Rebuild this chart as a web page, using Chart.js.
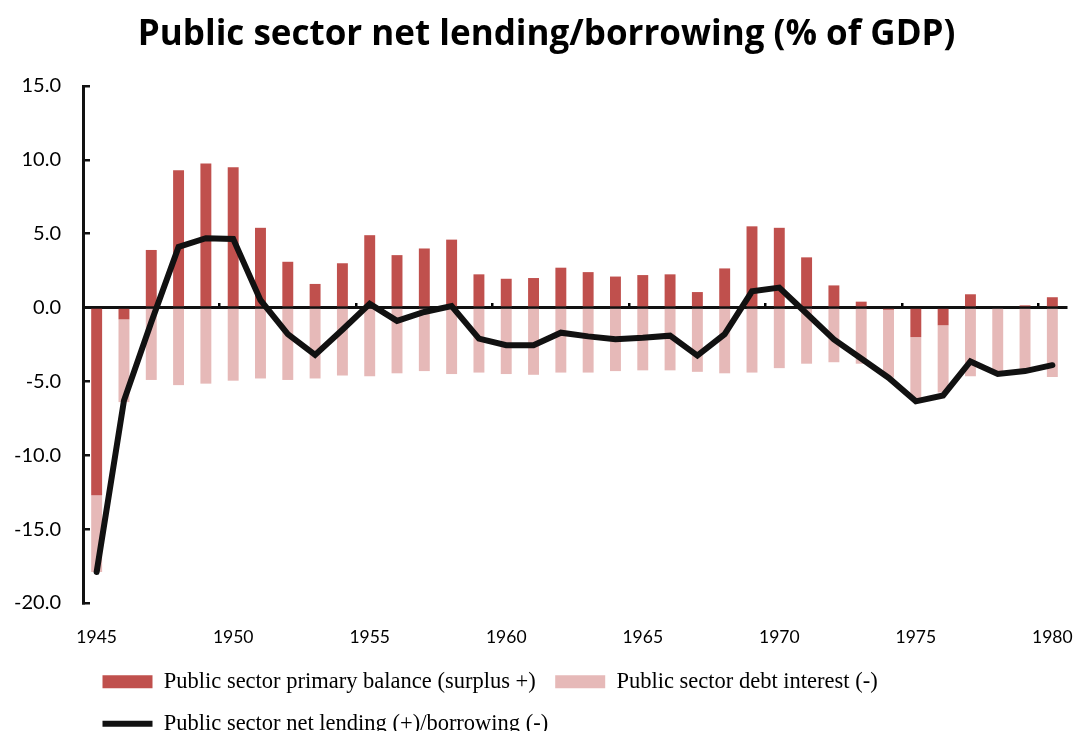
<!DOCTYPE html>
<html>
<head>
<meta charset="utf-8">
<script src="https://cdn.jsdelivr.net/npm/chart.js@4.4.1/dist/chart.umd.min.js"></script>
<style>
  html, body { margin: 0; padding: 0; background: #fff; overflow: hidden; }
  #wrap { width: 1077px; height: 731px; overflow: hidden; }
</style>
</head>
<body>
<div id="wrap"><canvas id="chart" width="1077" height="745"></canvas></div>
<script>
const years = [
  "1945", "1946", "1947", "1948", "1949", "1950", "1951", "1952", "1953", "1954",
  "1955", "1956", "1957", "1958", "1959", "1960", "1961", "1962", "1963", "1964",
  "1965", "1966", "1967", "1968", "1969", "1970", "1971", "1972", "1973", "1974",
  "1975", "1976", "1977", "1978", "1979", "1980"
];

// primary balance (surplus +), % of GDP
const primaryBalance = [
  -12.7, -0.8, 3.9, 9.3, 9.75, 9.5, 5.4, 3.1, 1.6, 3.0,
  4.9, 3.55, 4.0, 4.6, 2.25, 1.95, 2.0, 2.7, 2.4, 2.1,
  2.2, 2.25, 1.05, 2.65, 5.5, 5.4, 3.4, 1.5, 0.4, -0.15,
  -2.0, -1.2, 0.9, 0.0, 0.15, 0.7
];

// debt interest (-), % of GDP
const debtInterest = [
  -5.2, -5.6, -4.9, -5.25, -5.15, -4.95, -4.8, -4.9, -4.8, -4.6,
  -4.65, -4.45, -4.3, -4.5, -4.4, -4.5, -4.55, -4.4, -4.4, -4.3,
  -4.25, -4.25, -4.35, -4.45, -4.4, -4.1, -3.8, -3.7, -3.8, -4.6,
  -4.15, -4.55, -4.65, -4.45, -4.4, -4.7
];

// net lending (+) / borrowing (-), % of GDP
const netLending = [
  -17.9, -6.3, -1.0, 4.1, 4.7, 4.65, 0.5, -1.8, -3.2, -1.5,
  0.25, -0.9, -0.3, 0.1, -2.1, -2.55, -2.55, -1.7, -1.95, -2.15,
  -2.05, -1.9, -3.25, -1.8, 1.1, 1.35, -0.4, -2.15, -3.45, -4.75,
  -6.35, -5.95, -3.65, -4.5, -4.3, -3.9
];

const yTicks = [-20, -15, -10, -5, 0, 5, 10, 15];

const RED = "#C0504D";
const PINK = "#E6B9B8";

new Chart(document.getElementById("chart"), {
  type: "bar",
  data: {
    labels: years,
    datasets: [
      {
        label: "Public sector primary balance (surplus +)",
        data: primaryBalance,
        backgroundColor: RED,
        borderWidth: 0,
        stack: "bal",
        order: 1,
        xAxisID: "x",
        pointStyle: "rect",
        barPercentage: 0.4,
        categoryPercentage: 1,
      },
      {
        label: "Public sector debt interest (-)",
        data: debtInterest,
        backgroundColor: PINK,
        borderWidth: 0,
        stack: "bal",
        order: 1,
        xAxisID: "x",
        pointStyle: "rect",
        barPercentage: 0.4,
        categoryPercentage: 1,
      },
      {
        type: "line",
        label: "Public sector net lending (+)/borrowing (-)",
        data: netLending,
        borderColor: "#111",
        backgroundColor: "#111",
        borderWidth: 6,
        borderCapStyle: "round",
        pointRadius: 0,
        pointHoverRadius: 0,
        pointStyle: "line",
        tension: 0,
        stack: "net",
        order: 0,
        xAxisID: "x",
      },
    ],
  },
  options: {
    responsive: false,
    animation: false,
    layout: { padding: { left: 0, right: 11, top: 0, bottom: 0 } },
    plugins: {
      title: {
        display: true,
        // leading spaces nudge the centred title a little to the right
        text: "   Public sector net lending/borrowing (% of GDP)",
        color: "#000",
        font: { family: "Open Sans", weight: "bold", size: 35 },
        padding: { top: 14, bottom: 30 },
      },
      legend: {
        position: "bottom",
        align: "start",
        fullSize: false,
        labels: {
          usePointStyle: true,
          pointStyleWidth: 50,
          boxHeight: 13,
          padding: 19.5,
          color: "#000",
          font: { family: "Liberation Serif", size: 22.5 },
          sort: (a, b) => a.datasetIndex - b.datasetIndex,
        },
      },
      tooltip: { enabled: false },
    },
    scales: {
      x: {
        type: "category",
        position: "bottom",
        stacked: true,
        offset: true,
        // ticks are hidden, their length only pushes the labels down
        grid: { display: false, drawTicks: true, tickLength: 24 },
        border: { display: false },
        ticks: {
          autoSkip: false,
          maxRotation: 0,
          padding: 0,
          color: "#000",
          font: { family: "Lato", size: 17.5 },
          callback: function (value, index) {
            return index % 5 === 0 ? this.getLabelForValue(value) : "";
          },
        },
        afterFit: (scale) => { scale.height = 48; },
      },
      x2: {
        type: "category",
        axis: "x",
        position: { y: 0 },
        offset: true,
        grid: {
          offset: true,
          drawOnChartArea: false,
          drawTicks: true,
          tickLength: -6,
          lineWidth: 2.5,
          color: (ctx) => (ctx.index > 0 && ctx.index % 5 === 0 ? "#000" : "rgba(0,0,0,0)"),
        },
        border: { display: true, color: "#111", width: 3 },
        ticks: { display: false },
      },
      y: {
        stacked: true,
        min: yTicks[0],
        max: yTicks[yTicks.length - 1],
        afterBuildTicks: (scale) => { scale.ticks = yTicks.map(v => ({ value: v })); },
        grid: {
          drawOnChartArea: false,
          drawTicks: true,
          tickLength: -7,
          lineWidth: 2.5,
          color: "#111",
        },
        border: { display: true, color: "#111", width: 3 },
        ticks: {
          padding: 29,
          color: "#000",
          font: { family: "Lato", size: 20 },
          callback: (v) => Number(v).toFixed(1),
        },
        afterFit: (scale) => { scale.width = 83; },
      },
    },
  },
});
</script>
</body>
</html>
